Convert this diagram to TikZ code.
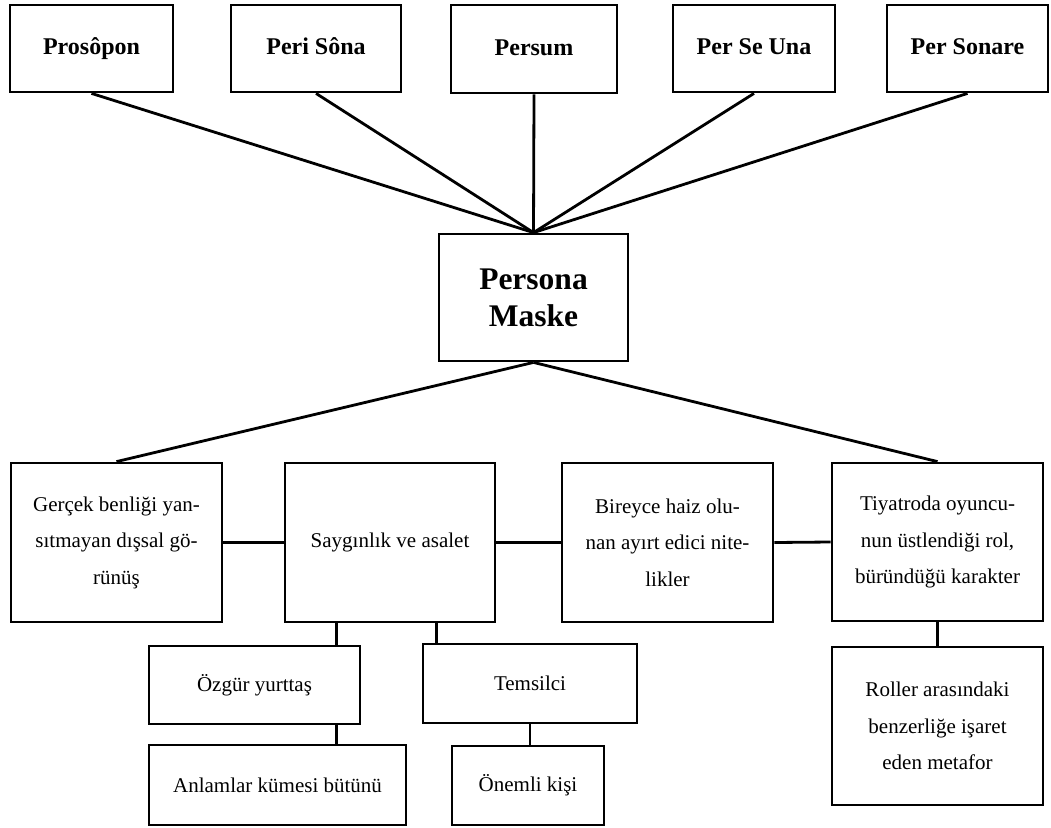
\documentclass[tikz,border=0pt]{standalone}
\usepackage{fontspec}
\setmainfont{Liberation Serif}
\begin{document}
\begin{tikzpicture}[x=1pt,y=-1pt,
  box/.style={draw,line width=2.8pt,inner sep=0pt,align=center},
  topbox/.style={box,font={\fontsize{24}{28}\selectfont\bfseries},text height=17pt,text depth=5pt},
  mainbox/.style={box,font={\fontsize{31.5}{37}\selectfont\bfseries}},
  txtbox/.style={box,font={\fontsize{21}{36.5}\selectfont}},
  link/.style={line width=2.8pt}]
\useasboundingbox (0,0) rectangle (1051,827);
% top row
\node[topbox,minimum width=163pt,minimum height=87pt] (pros) at (91.5,48.5) {Prosôpon};
\node[topbox,minimum width=170pt,minimum height=87pt] (peri) at (316,48.5) {Peri Sôna};
\node[topbox,minimum width=166pt,minimum height=88pt] (persum) at (534,49) {Persum};
\node[topbox,minimum width=162pt,minimum height=87pt] (perse) at (754,48.5) {Per Se Una};
\node[topbox,minimum width=161pt,minimum height=87pt] (personare) at (967.5,48.5) {Per Sonare};
% center
\node[mainbox,minimum width=189pt,minimum height=127pt] (persona) at (533.5,297.5) {Persona\\Maske};
% second row
\node[txtbox,minimum width=211pt,minimum height=159pt] (gercek) at (116.5,542.5) {Gerçek benliği yan-\\sıtmayan dışsal gö-\\rünüş};
\node[txtbox,minimum width=210pt,minimum height=159pt] (sayg) at (390,542.5) {Saygınlık ve asalet};
\node[txtbox,minimum width=211pt,minimum height=159pt] (birey) at (667.5,542.5) {Bireyce haiz olu-\\nan ayırt edici nite-\\likler};
\node[txtbox,minimum width=211pt,minimum height=158pt] (tiyat) at (937.5,542) {Tiyatroda oyuncu-\\nun üstlendiği rol,\\büründüğü karakter};
% third row
\node[txtbox,minimum width=211pt,minimum height=78pt] (ozgur) at (254.5,685) {Özgür yurttaş};
\node[txtbox,minimum width=214pt,minimum height=79pt] (temsil) at (530,683.5) {Temsilci};
\node[txtbox,minimum width=211pt,minimum height=158pt] (roller) at (937.5,726) {Roller arasındaki\\benzerliğe işaret\\eden metafor};
% fourth row
\node[txtbox,minimum width=257pt,minimum height=80pt] (anlam) at (277.5,785) {Anlamlar kümesi bütünü};
\node[txtbox,minimum width=152pt,minimum height=79pt] (onemli) at (528,785.5) {Önemli kişi};
% connectors
\foreach \n in {pros,peri,persum,perse,personare}
  \draw[link] (\n.south) -- (persona.north);
\draw[link] (persona.south) -- (gercek.north);
\draw[link] (persona.south) -- (tiyat.north);
\draw[link] (gercek.east) -- (sayg.west);
\draw[link] (sayg.east) -- (birey.west);
\draw[link] (birey.east) -- (tiyat.west);
\draw[link] ([xshift=-25pt]ozgur.north east) -- ([xshift=-25pt]ozgur.north east |- sayg.south);
\draw[link] ([xshift=15pt]temsil.north west) -- ([xshift=15pt]temsil.north west |- sayg.south);
\draw[link] ([xshift=-25pt]ozgur.south east) -- ([xshift=-25pt]ozgur.south east |- anlam.north);
\draw[link] (temsil.south) -- (temsil.south |- onemli.north);
\draw[link] (tiyat.south) -- (roller.north);
\end{tikzpicture}
\end{document}
